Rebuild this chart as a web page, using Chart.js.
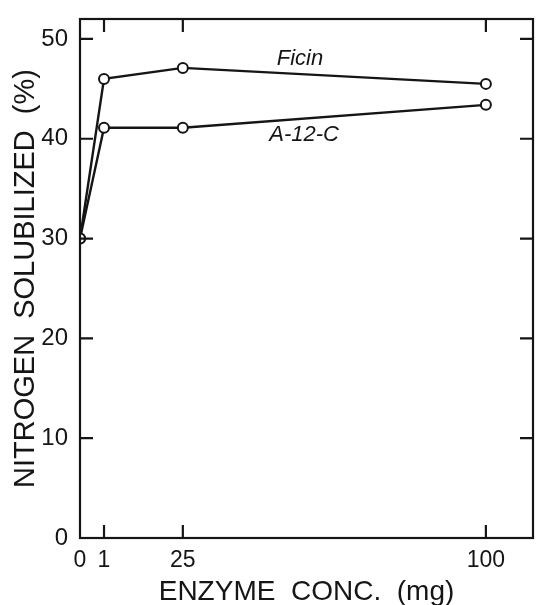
<!DOCTYPE html>
<html>
<head>
<meta charset="utf-8">
<script src="https://cdn.jsdelivr.net/npm/chart.js@4.4.1/dist/chart.umd.min.js"></script>
<style>
  html, body { margin: 0; padding: 0; background: #fff; }
  #wrap { width: 540px; height: 605px; }
</style>
</head>
<body>
<div id="wrap"><canvas id="c" width="540" height="605"></canvas></div>
<script>
// ---- data ----
const enzymeConc = [0, 1, 25, 100];            // mg
const ficin      = [30, 46.0, 47.1, 45.5];     // % N solubilized
const a12c       = [30, 41.1, 41.1, 43.4];
const xTickValues = [0, 1, 25, 100];
const yTickValues = [0, 10, 20, 30, 40, 50];
const seriesNames = ['Ficin', 'A-12-C'];

// The original x axis is not linear (0 and 1 spread out); use a piecewise scale
class BrokenScale extends Chart.LinearScale {
  getPixelForValue(value) {
    if (value === null || value === undefined || isNaN(value)) return NaN;
    const v = this.options.stopValues, f = this.options.stopFractions;
    let i = 0;
    while (i < v.length - 2 && value > v[i + 1]) i++;
    const t = (value - v[i]) / (v[i + 1] - v[i]);
    return this.getPixelForDecimal(f[i] + t * (f[i + 1] - f[i]));
  }
  getValueForPixel(pixel) {
    const d = this.getDecimalForPixel(pixel);
    const v = this.options.stopValues, f = this.options.stopFractions;
    let i = 0;
    while (i < f.length - 2 && d > f[i + 1]) i++;
    const t = (d - f[i]) / (f[i + 1] - f[i]);
    return v[i] + t * (v[i + 1] - v[i]);
  }
}
BrokenScale.id = 'broken';
BrokenScale.defaults = {};
Chart.register(BrokenScale);

const INK = '#151515';
const FONT = "'Liberation Sans', Arial, sans-serif";

const frameAndTicks = {
  id: 'frameAndTicks',
  afterDatasetsDraw(chart) {
    const { ctx, chartArea: a, scales } = chart;
    const L = 13;
    ctx.save();
    ctx.strokeStyle = INK;
    ctx.lineWidth = 2.2;
    ctx.strokeRect(a.left, a.top, a.right - a.left, a.bottom - a.top);
    ctx.beginPath();
    xTickValues.forEach(v => {
      if (v === 0) return;
      const x = scales.x.getPixelForValue(v);
      ctx.moveTo(x, a.bottom); ctx.lineTo(x, a.bottom - L);
      ctx.moveTo(x, a.top); ctx.lineTo(x, a.top + L);
    });
    yTickValues.forEach(v => {
      if (v === 0) return;
      const y = scales.y.getPixelForValue(v);
      ctx.moveTo(a.left, y); ctx.lineTo(a.left + L, y);
      ctx.moveTo(a.right, y); ctx.lineTo(a.right - L, y);
    });
    ctx.stroke();
    // series labels
    ctx.fillStyle = INK;
    ctx.font = "italic 22px " + FONT;
    ctx.textAlign = 'center';
    ctx.textBaseline = 'middle';
    ctx.fillText(seriesNames[0], scales.x.getPixelForValue(54), scales.y.getPixelForValue(48.0));
    ctx.fillText(seriesNames[1], scales.x.getPixelForValue(55), scales.y.getPixelForValue(40.4));
    ctx.restore();
  }
};

function mk(vals) { return enzymeConc.map((x, i) => ({ x, y: vals[i] })); }

const dsStyle = {
  borderColor: INK,
  borderWidth: 2.4,
  pointRadius: 5,
  pointBorderWidth: 2,
  pointBackgroundColor: '#fff',
  pointBorderColor: INK,
  tension: 0,
  fill: false
};

new Chart(document.getElementById('c'), {
  type: 'line',
  data: {
    datasets: [
      Object.assign({ label: seriesNames[0], data: mk(ficin) }, dsStyle),
      Object.assign({ label: seriesNames[1], data: mk(a12c) }, dsStyle)
    ]
  },
  options: {
    responsive: false,
    animation: false,
    devicePixelRatio: 1,
    layout: { padding: { top: 19, right: 6, left: 0, bottom: 0 } },
    plugins: { legend: { display: false }, tooltip: { enabled: false } },
    scales: {
      x: {
        type: 'broken',
        min: 0, max: 112,
        stopValues: [0, 1, 25, 100, 112],
        stopFractions: [0, 0.053, 0.227, 0.896, 1],
        afterBuildTicks: s => { s.ticks = xTickValues.map(v => ({ value: v })); },
        afterFit: s => { s.height = 67; },
        grid: { display: false },
        border: { display: false },
        ticks: {
          autoSkip: false, maxRotation: 0, padding: 1, color: INK,
          font: { family: FONT, size: 23 },
          callback: v => String(v)
        },
        title: {
          display: true, text: 'ENZYME  CONC.  (mg)', color: INK,
          font: { family: FONT, size: 28 }, padding: { top: 0, bottom: -4 }
        }
      },
      y: {
        min: 0, max: 52,
        afterBuildTicks: s => { s.ticks = yTickValues.map(v => ({ value: v })); },
        afterFit: s => { s.width = 80; },
        grid: { display: false },
        border: { display: false },
        ticks: {
          padding: 4, color: INK,
          font: { family: FONT, size: 24 },
          callback: v => String(v)
        },
        title: {
          display: true, text: 'NITROGEN  SOLUBILIZED  (%)', color: INK,
          font: { family: FONT, size: 29 }, padding: { top: 9, bottom: 0 }
        }
      }
    }
  },
  plugins: [frameAndTicks]
});
</script>
</body>
</html>
